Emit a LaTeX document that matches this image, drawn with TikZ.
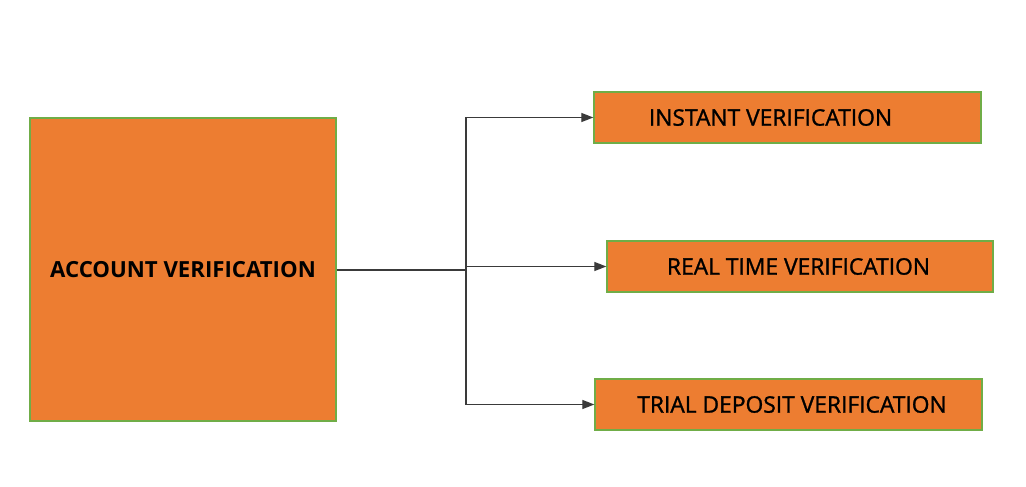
\documentclass[tikz,border=0pt]{standalone}
\usepackage{fontspec}
\setmainfont{Open Sans}
\usetikzlibrary{arrows.meta}
\definecolor{boxorange}{HTML}{ED7D31}
\definecolor{boxgreen}{HTML}{70AD47}
\definecolor{linegray}{HTML}{3A3A3A}
\begin{document}
\begin{tikzpicture}[x=1pt,y=-1pt,
  vbox/.style={draw=boxgreen,line width=1.3pt,fill=boxorange,inner sep=0pt,font=\fontsize{22.8}{26}\selectfont\addfontfeature{FakeBold=1.2},text=black},
  conn/.style={draw=linegray,line width=1.2pt},
  arr/.style={conn,-{Triangle[length=12pt,width=9pt]}}]
\useasboundingbox (0,0) rectangle (1026,487);
\node[vbox,minimum width=306pt,minimum height=303pt,font=\fontsize{22.2}{26}\selectfont\bfseries] (acc) at (183,269.5) {ACCOUNT VERIFICATION};
\node[vbox,minimum width=387pt,minimum height=51pt] (inst) at (787.5,117.5) {\hspace*{-34pt}INSTANT VERIFICATION};
\node[vbox,minimum width=386pt,minimum height=51pt] (real) at (800,266.5) {\hspace*{-3pt}REAL TIME VERIFICATION};
\node[vbox,minimum width=387pt,minimum height=51pt] (trial) at (788.5,404.5) {\hspace*{7pt}TRIAL DEPOSIT VERIFICATION};
\coordinate (j) at (466,270);
\draw[conn] (acc.east |- j) -- (j);
\draw[arr] (j) |- (inst.west);
\draw[arr] (j) |- (trial.west);
\draw[arr] (j |- real.west) -- (real.west);
\end{tikzpicture}
\end{document}
